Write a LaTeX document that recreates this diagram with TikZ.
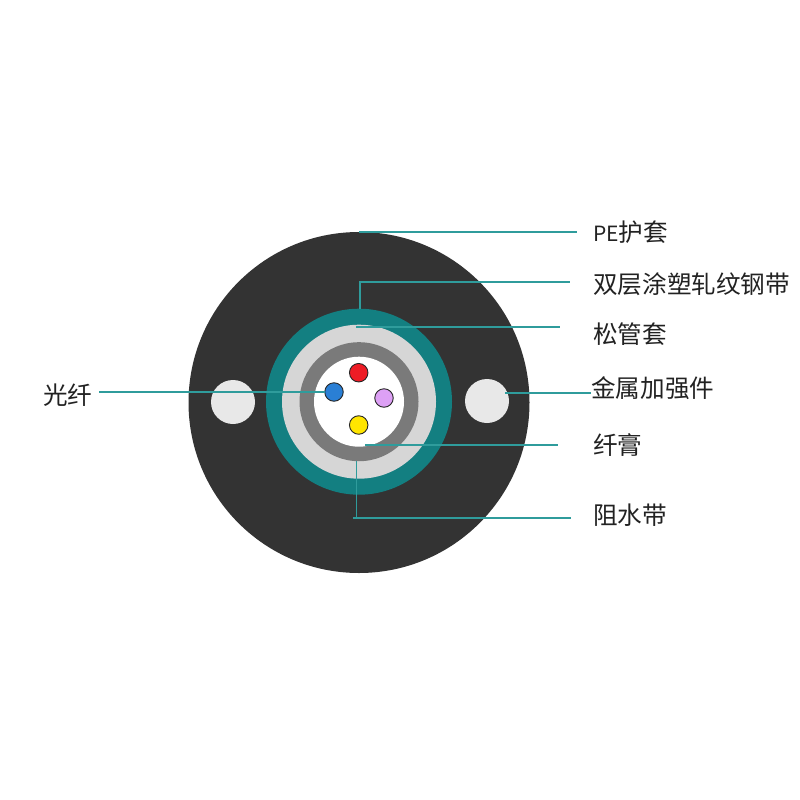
\documentclass[tikz,border=0pt]{standalone}
\usepackage{fontspec}
\newfontfamily\cjk{Noto Sans CJK SC}
\definecolor{jacket}{HTML}{333333}
\definecolor{tealring}{HTML}{137F81}
\definecolor{tubegray}{HTML}{D6D6D6}
\definecolor{bandgray}{HTML}{7A7A7A}
\definecolor{holegray}{HTML}{E8E8E8}
\definecolor{leader}{HTML}{2F9C9C}
\definecolor{labelink}{HTML}{222222}
\definecolor{fibred}{HTML}{EE1C25}
\definecolor{fibblue}{HTML}{2A7FD5}
\definecolor{fibpurple}{HTML}{DDA0F5}
\definecolor{fibyellow}{HTML}{FFE500}
\tikzset{
  disc/.style={circle,inner sep=0pt,outer sep=0pt,minimum size=#1},
  fibre/.style={circle,draw=black!85,line width=0.9pt,inner sep=0pt,outer sep=0pt,minimum size=18.5pt},
  lead/.style={draw=leader,line width=1.1pt},
  lbl/.style={anchor=west,inner sep=0pt,text=labelink,font=\cjk\fontsize{24.6}{26}\selectfont},
}
\begin{document}
\begin{tikzpicture}[x=1pt,y=-1pt]
\useasboundingbox (0,0) rectangle (800,800);
% cable layers
\node[disc=341pt,fill=jacket] (jacket) at (359,402.5) {};
\node[disc=186pt,fill=tealring] (armor) at (359,401.7) {};
\node[disc=154pt,fill=tubegray] (tube) at (359,401.7) {};
\node[disc=119pt,fill=bandgray] (band) at (359,401.7) {};
\node[disc=90pt,fill=white] (gel) at (359,401.7) {};
% strength members
\node[disc=44pt,fill=holegray] (holeL) at (233,402) {};
\node[disc=44pt,fill=holegray] (holeR) at (487,401) {};
% fibres
\node[fibre,fill=fibred] (fred) at (358.7,372.7) {};
\node[fibre,fill=fibblue] (fblue) at (334,392) {};
\node[fibre,fill=fibpurple] (fpurple) at (384,398) {};
\node[fibre,fill=fibyellow] (fyellow) at (358.7,425) {};
% labels
\node[lbl] (tPE) at (593,232.5) {{\fontsize{21}{26}\selectfont PE}护套};
\node[lbl] (tArmor) at (593,284) {双层涂塑轧纹钢带};
\node[lbl] (tTube) at (593,334) {松管套};
\node[lbl] (tMetal) at (591,388) {金属加强件};
\node[lbl] (tGel) at (593,445) {纤膏};
\node[lbl] (tBlock) at (593,515) {阻水带};
\node[lbl,anchor=east] (tFibre) at (92.5,395.5) {光纤};
% leader ends
\coordinate (a1) at (359,232); \coordinate (a2) at (577,232);
\coordinate (b1) at (360,309); \coordinate (b2) at (360,282); \coordinate (b3) at (570,282);
\coordinate (c1) at (356,327); \coordinate (c2) at (560,327);
\coordinate (d1) at (505,393); \coordinate (d2) at (591,393);
\coordinate (e1) at (365,445); \coordinate (e2) at (558,445);
\coordinate (f1) at (356.5,461); \coordinate (f2) at (356.5,518); \coordinate (f3) at (353,518); \coordinate (f4) at (571,518);
\coordinate (g1) at (99,392); \coordinate (g2) at (325,392);
\draw[lead] (a1) -- (a2);
\draw[lead] (b1) -- (b2) -- (b3);
\draw[lead] (c1) -- (c2);
\draw[lead] (d1) -- (d2);
\draw[lead] (e1) -- (e2);
\draw[lead] (f1) -- (f2);
\draw[lead] (f3) -- (f4);
\draw[lead] (g1) -- (g2);
\end{tikzpicture}
\end{document}
